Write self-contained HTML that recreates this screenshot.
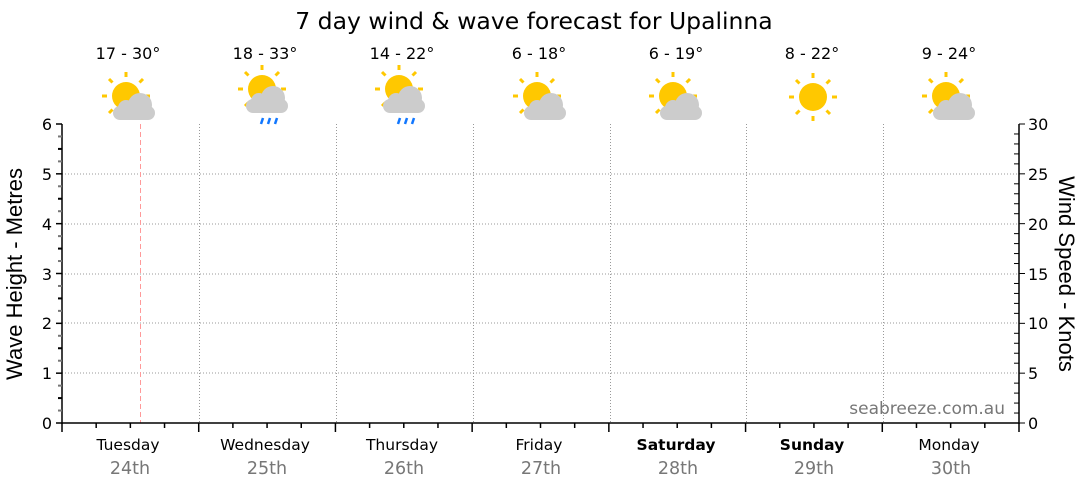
<!DOCTYPE html>
<html><head><meta charset="utf-8"><style>
html,body{margin:0;padding:0;background:#fff;}
svg{display:block;font-family:"DejaVu Sans","Liberation Sans",sans-serif;}
</style></head><body>
<svg width="1080" height="490" viewBox="0 0 1080 490" xmlns="http://www.w3.org/2000/svg">
<defs>
<g id="sun">
  <circle r="14" fill="#FFC800"/>
  <g stroke="#FFC800" stroke-width="3">
    <line x1="0" y1="-19" x2="0" y2="-24"/><line x1="0" y1="19" x2="0" y2="24"/>
    <line x1="-19" y1="0" x2="-24" y2="0"/><line x1="19" y1="0" x2="24" y2="0"/>
    <line x1="13.5" y1="-13.5" x2="17" y2="-17"/><line x1="-13.5" y1="-13.5" x2="-17" y2="-17"/>
    <line x1="13.5" y1="13.5" x2="17" y2="17"/><line x1="-13.5" y1="13.5" x2="-17" y2="17"/>
  </g>
</g>
<g id="cloud" fill="#CCCCCC">
  <rect x="-13" y="10" width="42" height="14" rx="7"/>
  <circle cx="14" cy="9" r="12"/>
  <circle cx="0" cy="12" r="8"/>
</g>
<g id="rain" stroke="#1177FF" stroke-width="2.5">
  <line x1="-7" y1="0" x2="-9" y2="6"/><line x1="0" y1="0" x2="-2" y2="6"/><line x1="7" y1="0" x2="5" y2="6"/>
</g>
</defs>
<text x="534" y="29" font-size="23.5" text-anchor="middle" fill="#000">7 day wind &amp; wave forecast for Upalinna</text>
<g font-size="16" text-anchor="middle" fill="#000">
<text x="128" y="59">17 - 30°</text><text x="265" y="59">18 - 33°</text><text x="402" y="59">14 - 22°</text>
<text x="539" y="59">6 - 18°</text><text x="676" y="59">6 - 19°</text><text x="812" y="59">8 - 22°</text><text x="949" y="59">9 - 24°</text>
</g>
<g transform="translate(126,96)"><use href="#sun"/><use href="#cloud"/></g>
<g transform="translate(262,89)"><use href="#sun"/><g transform="translate(-3,0)"><use href="#cloud"/></g><g transform="translate(8,29)"><use href="#rain"/></g></g>
<g transform="translate(399,89)"><use href="#sun"/><g transform="translate(-3,0)"><use href="#cloud"/></g><g transform="translate(8,29)"><use href="#rain"/></g></g>
<g transform="translate(537,96)"><use href="#sun"/><use href="#cloud"/></g>
<g transform="translate(673,96)"><use href="#sun"/><use href="#cloud"/></g>
<g transform="translate(813,97)"><use href="#sun"/></g>
<g transform="translate(946,96)"><use href="#sun"/><use href="#cloud"/></g>
<g stroke="#999" stroke-width="1" stroke-dasharray="1,2">
<line x1="62" y1="174" x2="1019" y2="174"/><line x1="62" y1="224" x2="1019" y2="224"/>
<line x1="62" y1="274" x2="1019" y2="274"/><line x1="62" y1="323" x2="1019" y2="323"/>
<line x1="62" y1="373" x2="1019" y2="373"/>
<line x1="199.5" y1="124" x2="199.5" y2="423"/><line x1="336.5" y1="124" x2="336.5" y2="423"/>
<line x1="473.5" y1="124" x2="473.5" y2="423"/><line x1="610.5" y1="124" x2="610.5" y2="423"/>
<line x1="746.5" y1="124" x2="746.5" y2="423"/><line x1="883.5" y1="124" x2="883.5" y2="423"/>
</g>
<line x1="140.5" y1="124" x2="140.5" y2="423" stroke="#FF9999" stroke-dasharray="5,3"/>
<g stroke="#000" stroke-width="1.5">
<line x1="62" y1="124" x2="62" y2="424"/><line x1="1019" y1="124" x2="1019" y2="424"/>
<line x1="62" y1="423" x2="1019" y2="423"/>
</g>
<g stroke="#000" id="ticks"></g>
<g font-size="16" fill="#000" text-anchor="end">
<text x="52" y="429">0</text><text x="52" y="379">1</text><text x="52" y="329">2</text><text x="52" y="280">3</text><text x="52" y="230">4</text><text x="52" y="180">5</text><text x="52" y="130">6</text>
</g>
<g font-size="16" fill="#000" text-anchor="start">
<text x="1028" y="429">0</text><text x="1028" y="379">5</text><text x="1028" y="329">10</text><text x="1028" y="280">15</text><text x="1028" y="230">20</text><text x="1028" y="180">25</text><text x="1028" y="130">30</text>
</g>
<text transform="translate(22,274) rotate(-90)" font-size="22" text-anchor="middle" fill="#000" font-family="Liberation Sans, sans-serif">Wave Height - Metres</text>
<text transform="translate(1059,274) rotate(90)" font-size="22" text-anchor="middle" fill="#000" font-family="Liberation Sans, sans-serif">Wind Speed - Knots</text>
<text x="1005" y="414" font-size="17" text-anchor="end" fill="#777">seabreeze.com.au</text>
<g font-size="15.5" text-anchor="middle" fill="#000">
<text x="128" y="450">Tuesday</text><text x="265" y="450">Wednesday</text><text x="402" y="450">Thursday</text>
<text x="539" y="450">Friday</text><text x="676" y="450" font-weight="bold">Saturday</text><text x="812" y="450" font-weight="bold">Sunday</text><text x="949" y="450">Monday</text>
</g>
<g font-size="17.5" text-anchor="middle" fill="#777">
<text x="130" y="474">24th</text><text x="267" y="474">25th</text><text x="404" y="474">26th</text>
<text x="541" y="474">27th</text><text x="678" y="474">28th</text><text x="814" y="474">29th</text><text x="951" y="474">30th</text>
</g>
</svg>
<script>
var g=document.getElementById('ticks'),h='';
for(var i=0;i<=24;i++){var y=423-i*299/24;var maj=i%4==0;
 h+='<line x1="'+(maj?56:58)+'" y1="'+y+'" x2="62" y2="'+y+'" stroke="'+(maj||i%2==0?'#000':'#777')+'" stroke-width="'+(maj?1.5:2)+'"/>';}
for(var k=0;k<=30;k++){var y=423-k*299/30;var maj=k%5==0;
 h+='<line x1="'+(maj?1019:1014)+'" y1="'+y+'" x2="'+(maj?1025:1019)+'" y2="'+y+'" stroke="#000"/>';}
for(var d=0;d<=28;d++){var x=62+d*957/28;var maj=d%4==0;
 h+='<line x1="'+x+'" y1="423" x2="'+x+'" y2="'+(maj?432:428)+'" stroke="#000" stroke-width="1.5"/>';}
g.innerHTML=h;
</script>
</body></html>
